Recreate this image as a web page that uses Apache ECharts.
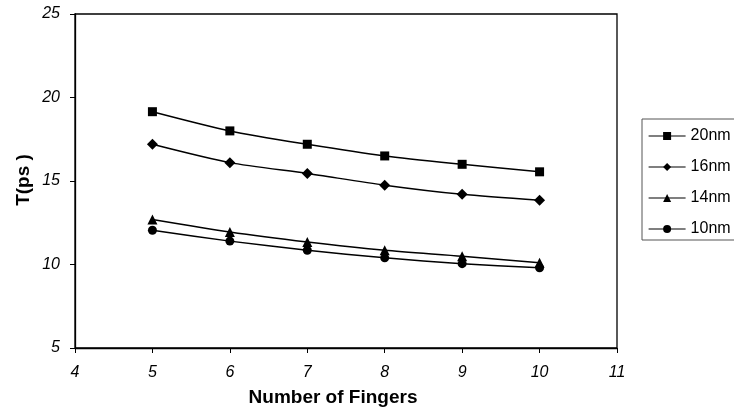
<!DOCTYPE html>
<html>
<head>
<meta charset="utf-8">
<script src="https://cdn.jsdelivr.net/npm/echarts@6/dist/echarts.min.js"></script>
<style>
  html, body { margin: 0; padding: 0; background: #fff; }
  #chart { width: 734px; height: 415px; }
</style>
</head>
<body>
<div id="chart"></div>
<script>
// Number of fingers on the x axis
const fingers = [5, 6, 7, 8, 9, 10];

// Delay T (ps) for each gate length
const t20nm = [19.15, 18.0, 17.2, 16.5, 16.0, 15.55];
const t16nm = [17.2, 16.1, 15.45, 14.75, 14.2, 13.85];
const t14nm = [12.7, 11.95, 11.35, 10.85, 10.5, 10.1];
const t10nm = [12.05, 11.4, 10.85, 10.4, 10.05, 9.8];

const seriesNames = ['20nm', '16nm', '14nm', '10nm'];
const seriesData = [t20nm, t16nm, t14nm, t10nm];
const symbols = ['rect', 'diamond', 'triangle', 'circle'];
const symbolSizes = [9, 11, 10, 9];

const font = 'Liberation Sans, Arial, sans-serif';

const chart = echarts.init(document.getElementById('chart'));

chart.setOption({
  animation: false,
  backgroundColor: '#fff',
  grid: {
    left: 75, right: 117, top: 14, bottom: 67,
    show: true, borderColor: '#000', borderWidth: 1.3, backgroundColor: 'transparent'
  },
  xAxis: {
    type: 'value',
    min: 4, max: 11, interval: 1,
    axisLine: { show: true, lineStyle: { color: '#000', width: 1.3 } },
    axisTick: { show: true, length: 5, lineStyle: { color: '#000' } },
    axisLabel: { color: '#000', fontFamily: font, fontSize: 16, fontStyle: 'italic', margin: 17 },
    splitLine: { show: false }
  },
  yAxis: {
    type: 'value',
    min: 5, max: 25, interval: 5,
    axisLine: { show: true, lineStyle: { color: '#000', width: 1.3 } },
    axisTick: { show: true, length: 5, lineStyle: { color: '#000' } },
    axisLabel: { color: '#000', fontFamily: font, fontSize: 16, fontStyle: 'italic', margin: 15 },
    splitLine: { show: false }
  },
  legend: {
    orient: 'vertical',
    left: 642, top: 119,
    padding: [9, 40, 3, 6],
    itemGap: 15,
    itemWidth: 37, itemHeight: 10,
    borderColor: '#555', borderWidth: 1,
    lineStyle: { width: 1.2 },
    textStyle: { color: '#000', fontFamily: font, fontSize: 16 },
    data: seriesNames
  },
  graphic: [
    {
      type: 'text',
      style: { text: 'Number of Fingers', x: 333, y: 398, align: 'center', verticalAlign: 'middle',
               fill: '#000', font: 'bold 19px ' + font }
    },
    {
      type: 'text', x: 24, y: 180, rotation: Math.PI / 2,
      style: { text: 'T(ps )', x: 0, y: 0, align: 'center', verticalAlign: 'middle',
               fill: '#000', font: 'bold 19px ' + font }
    }
  ],
  series: seriesNames.map((name, i) => ({
    name,
    type: 'line',
    smooth: 0.25,
    data: fingers.map((f, j) => [f, seriesData[i][j]]),
    symbol: symbols[i],
    symbolSize: symbolSizes[i],
    itemStyle: { color: '#000' },
    lineStyle: { color: '#000', width: 1.5 }
  }))
});
</script>
</body>
</html>
